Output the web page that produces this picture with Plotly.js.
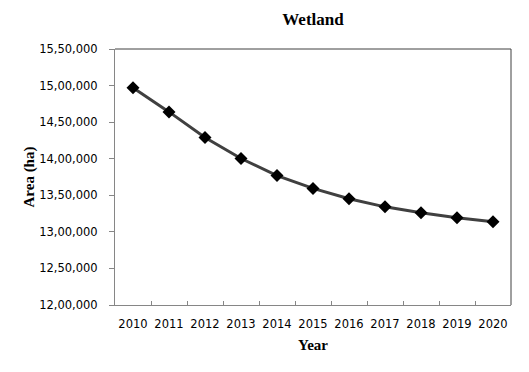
<!DOCTYPE html>
<html><head><meta charset="utf-8">
<script src="https://cdn.plot.ly/plotly-3.0.1.min.js"></script>
<style>html,body{margin:0;padding:0;background:#fff;}</style>
</head><body>
<div id="chart" style="width:529px;height:372px;"></div>
<script>
const years = ["2010","2011","2012","2013","2014","2015","2016","2017","2018","2019","2020"];
const wetlandArea = [1497000,1464000,1429000,1400300,1377000,1359400,1345200,1334200,1326000,1319200,1313800];
const yTickVals = [1200000,1250000,1300000,1350000,1400000,1450000,1500000,1550000];
const yTickText = ["12,00,000","12,50,000","13,00,000","13,50,000","14,00,000","14,50,000","15,00,000","15,50,000"];

const trace = {
  x: years, y: wetlandArea, type: 'scatter', mode: 'lines+markers',
  line: {color: '#404040', width: 3},
  marker: {symbol: 'diamond', size: 10, color: '#000000'},
  cliponaxis: false, showlegend: false, hoverinfo: 'skip'
};
const serif = "Liberation Serif";
const sans = "DejaVu Sans";
const layout = {
  width: 529, height: 372,
  margin: {l: 115, r: 17.5, t: 48.5, b: 67},
  paper_bgcolor: '#fff', plot_bgcolor: '#fff',
  title: {text: '<b>Wetland</b>', x: 0.5, xref: 'paper', xanchor: 'center', y: 1, yref: 'container', yanchor: 'top', pad: {t: 13},
          font: {family: serif, size: 17, color: '#000', weight: 'bold'}},
  xaxis: {type: 'category', tickson: 'boundaries', ticks: 'inside', ticklen: 4, tickcolor: '#868686',
          showline: true, linecolor: '#868686', linewidth: 1, showgrid: false, zeroline: false, tickangle: 0,
          tickfont: {family: sans, size: 11.5, color: '#000'}, ticklabelstandoff: 8,
          title: {text: 'Year', font: {family: serif, size: 15, color: '#000', weight: 'bold'}, standoff: 9},
          range: [-0.5, 10.5]},
  yaxis: {range: [1200000, 1550000], tickvals: yTickVals, ticktext: yTickText,
          ticks: 'outside', ticklen: 5, tickcolor: '#868686',
          showline: true, linecolor: '#868686', linewidth: 1, showgrid: false, zeroline: false,
          tickfont: {family: sans, size: 11.5, color: '#000'}, ticklabelstandoff: 9,
          title: {text: 'Area (ha)', font: {family: serif, size: 15, color: '#000', weight: 'bold'}, standoff: 0}},
  shapes: [
    {type: 'line', xref: 'paper', yref: 'paper', x0: 0, x1: 1, y0: 1, y1: 1, line: {color: '#404040', width: 1}},
    {type: 'line', xref: 'paper', yref: 'paper', x0: 1, x1: 1, y0: 0, y1: 1, line: {color: '#404040', width: 1}}
  ]
};
Plotly.newPlot('chart', [trace], layout, {displayModeBar: false, staticPlot: true});
</script>
</body></html>
